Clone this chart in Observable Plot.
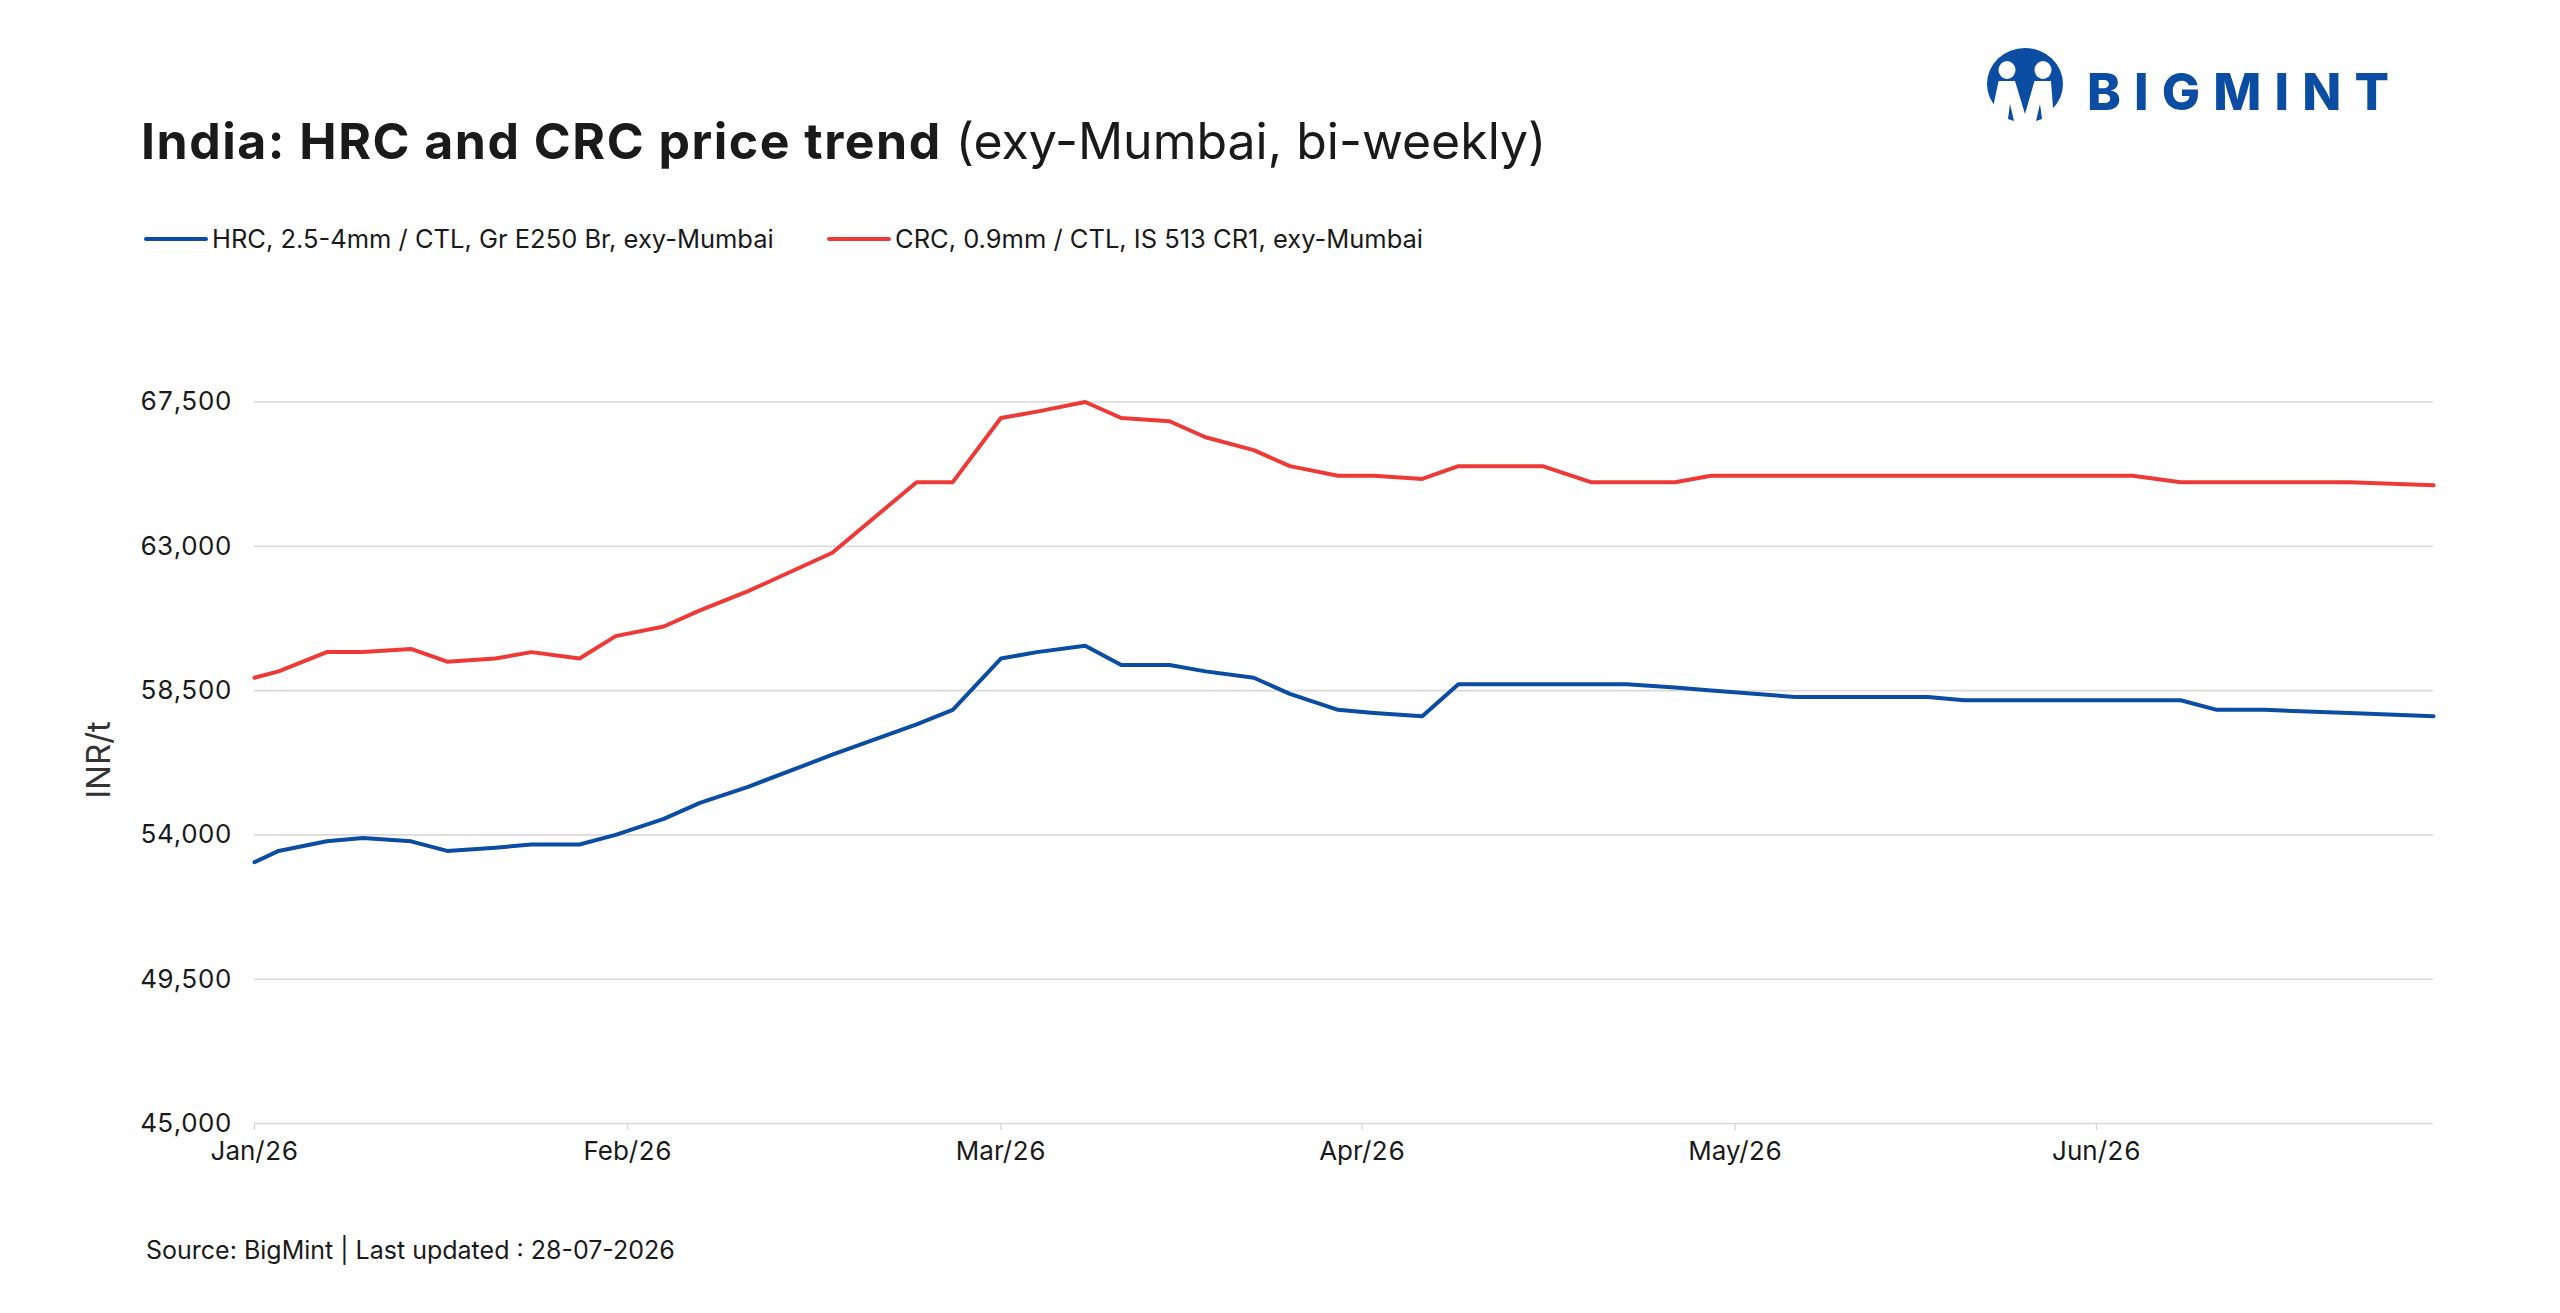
<!DOCTYPE html>
<html>
<head>
<meta charset="utf-8">
<script src="https://cdn.jsdelivr.net/npm/d3@7"></script>
<script src="https://cdn.jsdelivr.net/npm/@observablehq/plot@0.6"></script>
<style>
  body { margin: 0; background: #fff; font-family: Inter, "Liberation Sans", sans-serif; color: #1a1a1a; }
  #page { position: relative; width: 2560px; height: 1313px; overflow: hidden; background: #fff; }
  .abs { position: absolute; white-space: nowrap; }
  #title { left: 141px; top: 116px; font-size: 50px; line-height: 50px; }
  #title b { font-weight: 700; letter-spacing: 1.5px; }
  .legend-item { display: flex; align-items: center; top: 226px; font-size: 25.5px; line-height: 26px; }
  .swatch { display: inline-block; width: 64px; height: 4px; margin-right: 4px; border-radius: 2px; }
  #ylabel { left: 98px; top: 760px; font-size: 33px; line-height: 33px; color: #333; transform: translate(-50%, -50%) rotate(-90deg); }
  #source { left: 146px; top: 1237px; font-size: 25px; line-height: 26px; }
  #chart { left: 0; top: 360px; }
</style>
</head>
<body>
<div id="page">
  <div id="title" class="abs"><b>India: HRC and CRC price trend</b> (exy-Mumbai, bi-weekly)</div>
  <div id="legend"></div>
  <div id="ylabel" class="abs">INR/t</div>
  <div id="chart" class="abs"></div>
  <div id="source" class="abs">Source: BigMint | Last updated : 28-07-2026</div>
  <svg class="abs" style="left:1980px;top:40px" width="440" height="100">
    <ellipse cx="45" cy="44" rx="38" ry="36" fill="#0a4da3"/>
    <polygon points="18.6,41 35,41 45,74 54.5,41 71,41 73,68 84,100 6,100" fill="#fff"/>
    <ellipse cx="27" cy="30" rx="8.5" ry="9" fill="#fff"/>
    <ellipse cx="63" cy="30" rx="8.5" ry="9" fill="#fff"/>
    <polygon points="30,64 34,81 28,79" fill="#0a4da3"/>
    <polygon points="60,64 56,81 62,79" fill="#0a4da3"/>
    <text x="107" y="70" font-family="Inter, sans-serif" font-weight="800" font-size="51" fill="#0a4da3" textLength="302" lengthAdjust="spacing">BIGMINT</text>
  </svg>
</div>
<script>
// twice-weekly price points
const dates = [
  "2026-01-01", "2026-01-03", "2026-01-07", "2026-01-10", "2026-01-14", "2026-01-17", "2026-01-21", "2026-01-24", "2026-01-28", "2026-01-31",
  "2026-02-04", "2026-02-07", "2026-02-11", "2026-02-18", "2026-02-25", "2026-02-28",
  "2026-03-04", "2026-03-07", "2026-03-11", "2026-03-14", "2026-03-18", "2026-03-21", "2026-03-25", "2026-03-28",
  "2026-04-01", "2026-04-04", "2026-04-08", "2026-04-11", "2026-04-18", "2026-04-22", "2026-04-25", "2026-04-29",
  "2026-05-02", "2026-05-09", "2026-05-20", "2026-05-23",
  "2026-06-06", "2026-06-10", "2026-06-13", "2026-06-17", "2026-06-24",
  "2026-07-01"
];
const hrc = [
  53150, 53500, 53800, 53900, 53800, 53500, 53600, 53700, 53700, 54000,
  54500, 55000, 55500, 56500, 57450, 57900,
  59500, 59700, 59900, 59300, 59300, 59100, 58900, 58400,
  57900, 57800, 57700, 58700, 58700, 58700, 58700, 58600,
  58500, 58300, 58300, 58200,
  58200, 58200, 57900, 57900, 57800,
  57700
];
const crc = [
  58900, 59100, 59700, 59700, 59800, 59400, 59500, 59700, 59500, 60200,
  60500, 61000, 61600, 62800, 65000, 65000,
  67000, 67200, 67500, 67000, 66900, 66400, 66000, 65500,
  65200, 65200, 65100, 65500, 65500, 65000, 65000, 65000,
  65200, 65200, 65200, 65200,
  65200, 65000, 65000, 65000, 65000,
  64900
];
const seriesNames = ["HRC, 2.5-4mm / CTL, Gr E250 Br, exy-Mumbai", "CRC, 0.9mm / CTL, IS 513 CR1, exy-Mumbai"];
const seriesColors = ["#0a4da3", "#ee3a36"];
const yTicks = [45000, 49500, 54000, 58500, 63000, 67500];
const xTicks = ["2026-01-01", "2026-02-01", "2026-03-04", "2026-04-03", "2026-05-04", "2026-06-03"];

const parse = d3.utcParse("%Y-%m-%d");
const rows = [];
dates.forEach((d, i) => {
  rows.push({date: parse(d), value: hrc[i], series: seriesNames[0]});
  rows.push({date: parse(d), value: crc[i], series: seriesNames[1]});
});

// legend (html, above the svg)
const legendLefts = [144, 827];
seriesNames.forEach((name, i) => {
  const item = d3.select("#legend").append("div")
    .attr("class", "abs legend-item")
    .style("left", legendLefts[i] + "px");
  item.append("span").attr("class", "swatch").style("background", seriesColors[i]);
  item.append("span").text(name);
});

const chart = Plot.plot({
  width: 2560,
  height: 833,
  marginLeft: 254,
  marginRight: 127,
  marginTop: 41.5,
  marginBottom: 70,
  style: {fontFamily: "Inter, 'Liberation Sans', sans-serif", color: "#1a1a1a", background: "transparent"},
  x: {type: "utc", domain: [parse("2026-01-01"), parse("2026-07-01")]},
  y: {domain: [45000, 67500]},
  color: {domain: seriesNames, range: seriesColors},
  marks: [
    Plot.gridY(yTicks, {stroke: "#d9d9d9", strokeOpacity: 1, strokeWidth: 1.6}),
    Plot.axisY(yTicks, {tickSize: 0, tickPadding: 23, fontSize: 26, tickFormat: d3.format(","), label: null}),
    Plot.axisX(xTicks.map(parse), {tickSize: 7, tickPadding: 11, fontSize: 26, stroke: "#d0d0d0", strokeOpacity: 1, tickFormat: d3.utcFormat("%b/%y"), label: null}),
    Plot.line(rows, {x: "date", y: "value", z: "series", stroke: "series", strokeWidth: 4, strokeLinejoin: "round", strokeLinecap: "round"})
  ]
});
d3.select("#chart").append(() => chart);
</script>
</body>
</html>
